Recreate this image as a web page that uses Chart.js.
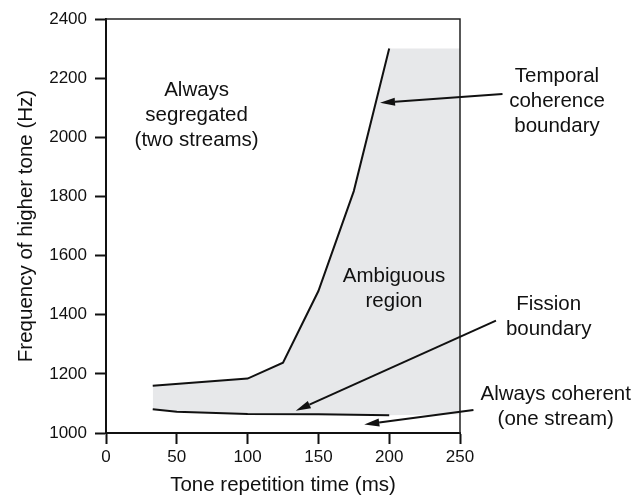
<!DOCTYPE html>
<html>
<head>
<meta charset="utf-8">
<script src="https://cdn.jsdelivr.net/npm/chart.js@4/dist/chart.umd.min.js"></script>
<style>
  html, body { margin: 0; padding: 0; background: #fff; }
  #wrap { width: 644px; height: 498px; }
</style>
</head>
<body>
<div id="wrap"><canvas id="streamChart" width="644" height="498"></canvas></div>
<script>
// Boundaries (x = tone repetition time in ms, y = Hz)
const temporalX = [33, 100, 125, 150, 175, 200, 250];
const temporalY = [1160, 1184, 1238, 1480, 1818, 2300, 2300];
const fissionX = [33, 50, 100, 150, 200, 250];
const fissionY = [1080, 1072, 1064, 1063, 1060, 1063];
const lineEnd = 200; // drawn boundaries stop here, the shading goes on to 250

const xTicks = [0, 50, 100, 150, 200, 250];
const yTicks = [1000, 1200, 1400, 1600, 1800, 2000, 2200, 2400];

const FONT = "'Liberation Sans', Arial, Helvetica, sans-serif";

// text labels and arrows, anchored in data units
const notes = [
    { lines: ['Always', 'segregated', '(two streams)'], x: 64, y: 2075 },
    { lines: ['Temporal', 'coherence', 'boundary'], x: 318.5, y: 2120 },
    { lines: ['Ambiguous', 'region'], x: 203.4, y: 1489 },
    { lines: ['Fission', 'boundary'], x: 312.6, y: 1393 },
    { lines: ['Always coherent', '(one stream)'], x: 317.6, y: 1088 }
];
const arrows = [
    { from: [280, 2146], to: [193.5, 2117] },
    { from: [275.4, 1380], to: [134, 1075] },
    { from: [259.5, 1078], to: [182.4, 1029] }
];

const toPoints = (xs, ys) => xs.map((x, i) => ({ x: x, y: ys[i] }));
const upTo = pts => pts.filter(p => p.x <= lineEnd);

const overlay = {
    id: 'overlay',
    afterDraw(chart) {
        const { ctx, chartArea: a, scales: { x, y } } = chart;
        ctx.save();
        // top and right frame
        ctx.strokeStyle = '#222';
        ctx.lineWidth = 1.5;
        ctx.beginPath();
        ctx.moveTo(a.left, a.top);
        ctx.lineTo(a.right, a.top);
        ctx.lineTo(a.right, a.bottom);
        ctx.stroke();

        ctx.fillStyle = '#111';
        ctx.font = '20.5px ' + FONT;
        ctx.textAlign = 'center';
        ctx.textBaseline = 'middle';
        const lh = 25;
        notes.forEach(n => {
            const cx = x.getPixelForValue(n.x);
            const cy = y.getPixelForValue(n.y);
            const start = cy - (n.lines.length - 1) * lh / 2;
            n.lines.forEach((t, i) => ctx.fillText(t, cx, start + i * lh));
        });

        ctx.strokeStyle = '#111';
        ctx.lineWidth = 2;
        arrows.forEach(ar => {
            const x0 = x.getPixelForValue(ar.from[0]), y0 = y.getPixelForValue(ar.from[1]);
            const x1 = x.getPixelForValue(ar.to[0]), y1 = y.getPixelForValue(ar.to[1]);
            const ang = Math.atan2(y1 - y0, x1 - x0);
            const len = 15, half = 4;
            const bx = x1 - len * Math.cos(ang), by = y1 - len * Math.sin(ang);
            ctx.beginPath();
            ctx.moveTo(x0, y0);
            ctx.lineTo(bx, by);
            ctx.stroke();
            ctx.beginPath();
            ctx.moveTo(x1, y1);
            ctx.lineTo(bx + half * Math.sin(ang), by - half * Math.cos(ang));
            ctx.lineTo(bx - half * Math.sin(ang), by + half * Math.cos(ang));
            ctx.closePath();
            ctx.fill();
        });
        ctx.restore();
    }
};

const temporalPts = toPoints(temporalX, temporalY);
const fissionPts = toPoints(fissionX, fissionY);

const lineStyle = { borderColor: '#111', borderWidth: 2, fill: false, pointRadius: 0, tension: 0 };

new Chart(document.getElementById('streamChart').getContext('2d'), {
    type: 'line',
    data: {
        datasets: [
            // shaded ambiguous region (no outline)
            { label: 'region top', data: temporalPts, borderWidth: 0, borderColor: 'rgba(0,0,0,0)',
              backgroundColor: '#e7e8ea', fill: '+1', pointRadius: 0, tension: 0, order: 3 },
            { label: 'region bottom', data: fissionPts, borderWidth: 0, borderColor: 'rgba(0,0,0,0)',
              fill: false, pointRadius: 0, tension: 0, order: 3 },
            // drawn boundaries
            Object.assign({ label: 'Temporal coherence boundary', data: upTo(temporalPts), order: 1 }, lineStyle),
            Object.assign({ label: 'Fission boundary', data: upTo(fissionPts), order: 1 }, lineStyle)
        ]
    },
    options: {
        responsive: false,
        animation: false,
        layout: { padding: { top: 19, right: 184, left: 0, bottom: 0 } },
        plugins: {
            legend: { display: false },
            tooltip: { enabled: false },
            filler: { drawTime: 'beforeDatasetsDraw' }
        },
        scales: {
            x: {
                type: 'linear',
                min: 0,
                max: 250,
                afterBuildTicks: s => { s.ticks = xTicks.map(v => ({ value: v })); },
                afterFit: s => { s.height = 65; },
                ticks: { color: '#111', padding: 3, font: { family: FONT, size: 17 }, callback: v => String(v) },
                grid: { drawOnChartArea: false, tickLength: 11, tickWidth: 2, tickColor: '#111' },
                border: { display: true, width: 2, color: '#111' },
                title: {
                    display: true,
                    text: 'Tone repetition time (ms)',
                    color: '#111',
                    font: { family: FONT, size: 20.5 },
                    padding: { top: 0, bottom: 0 }
                }
            },
            y: {
                min: 1000,
                max: 2400,
                afterBuildTicks: s => { s.ticks = yTicks.map(v => ({ value: v })); },
                afterFit: s => { s.width = 106; },
                ticks: { color: '#111', padding: 8, font: { family: FONT, size: 17 }, callback: v => String(v) },
                grid: { drawOnChartArea: false, tickLength: 11, tickWidth: 2, tickColor: '#111' },
                border: { display: true, width: 2, color: '#111' },
                title: {
                    display: true,
                    text: 'Frequency of higher tone (Hz)',
                    color: '#111',
                    font: { family: FONT, size: 20.5 },
                    padding: { top: 14, bottom: 0 }
                }
            }
        }
    },
    plugins: [overlay]
});
</script>
</body>
</html>
